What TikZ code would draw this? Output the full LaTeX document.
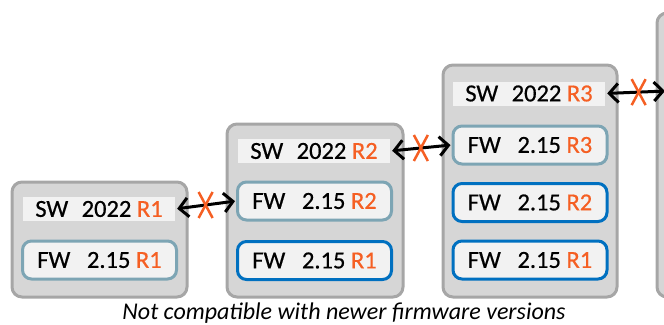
\documentclass[tikz,border=0pt]{standalone}
\usepackage{fontspec}
\setmainfont{Carlito}
\newfontfamily\boxfont[FakeBold=0.6]{Carlito}
\usetikzlibrary{arrows.meta,calc}
\definecolor{boxfill}{RGB}{214,214,214}
\definecolor{boxline}{RGB}{166,166,166}
\definecolor{barfill}{RGB}{242,242,242}
\definecolor{tealline}{RGB}{125,165,180}
\definecolor{blueline}{RGB}{0,112,192}
\definecolor{orng}{RGB}{245,95,35}
\tikzset{
  outerbox/.style={draw=boxline,fill=boxfill,line width=3pt,rounded corners=10pt},
  swbar/.style={fill=barfill,minimum width=152pt,minimum height=24pt,inner sep=0pt,font=\boxfont\fontsize{24.5}{24.5}\selectfont},
  fwbox/.style={draw=#1,fill=barfill,line width=3pt,rounded corners=9pt,minimum width=154pt,minimum height=38pt,inner sep=0pt,font=\boxfont\fontsize{24.5}{24.5}\selectfont},
  link/.style={line width=3pt,{Straight Barb[length=9pt,width=19pt,line width=3pt]}-{Straight Barb[length=9pt,width=19pt,line width=3pt]},shorten <=2pt,shorten >=1pt},
  xmark/.style={draw=orng,line width=2.5pt}
}
\newcommand{\swtxt}[1]{SW\hspace{0.55em}2022 \textcolor{orng}{#1}}
\newcommand{\fwtxt}[1]{FW\hspace{0.68em}2.15 \textcolor{orng}{#1}}
\newcommand{\crossat}[1]{\draw[xmark] ($(#1)+(-7,-13)$) -- ($(#1)+(7,13)$); \draw[xmark] ($(#1)+(7,-13)$) -- ($(#1)+(-7,13)$);}
\begin{document}
\begin{tikzpicture}[x=1pt,y=-1pt]
\useasboundingbox (0,0) rectangle (664,324);
% outer boxes
\draw[outerbox] (12,182) rectangle (187,297);
\draw[outerbox] (227,124) rectangle (403,297);
\draw[outerbox] (443,65) rectangle (617,297);
\begin{scope}
\clip (0,0) rectangle (664,324);
\draw[outerbox] (657,13) rectangle (720,297);
\end{scope}
% box 1
\node[swbar] (sw1) at (99,209) {\swtxt{R1}};
\node[fwbox=tealline] (fw1a) at (99.5,260) {\fwtxt{R1}};
% box 2
\node[swbar] (sw2) at (314,151) {\swtxt{R2}};
\node[fwbox=tealline] (fw2b) at (314.5,201) {\fwtxt{R2}};
\node[fwbox=blueline] (fw2a) at (314.5,260.5) {\fwtxt{R1}};
% box 3
\node[swbar] (sw3) at (529,93.5) {\swtxt{R3}};
\node[fwbox=tealline] (fw3c) at (530,145) {\fwtxt{R3}};
\node[fwbox=blueline] (fw3b) at (530,202.5) {\fwtxt{R2}};
\node[fwbox=blueline] (fw3a) at (530,260) {\fwtxt{R1}};
\coordinate (nxt) at (666,91);
% links
\draw[link] (sw1.east) -- (fw2b.west) coordinate[pos=0.5] (m1);
\draw[link] (sw2.east) -- (fw3c.west) coordinate[pos=0.5] (m2);
\draw[link] (sw3.east) -- (nxt) coordinate[pos=0.55] (m3);
\crossat{m1}
\crossat{m2}
\crossat{m3}
% caption
\node[font=\fontsize{24}{24}\selectfont\itshape,anchor=base,inner sep=0pt] (cap) at (344,319) {Not compatible with newer firmware versions};
\end{tikzpicture}
\end{document}
